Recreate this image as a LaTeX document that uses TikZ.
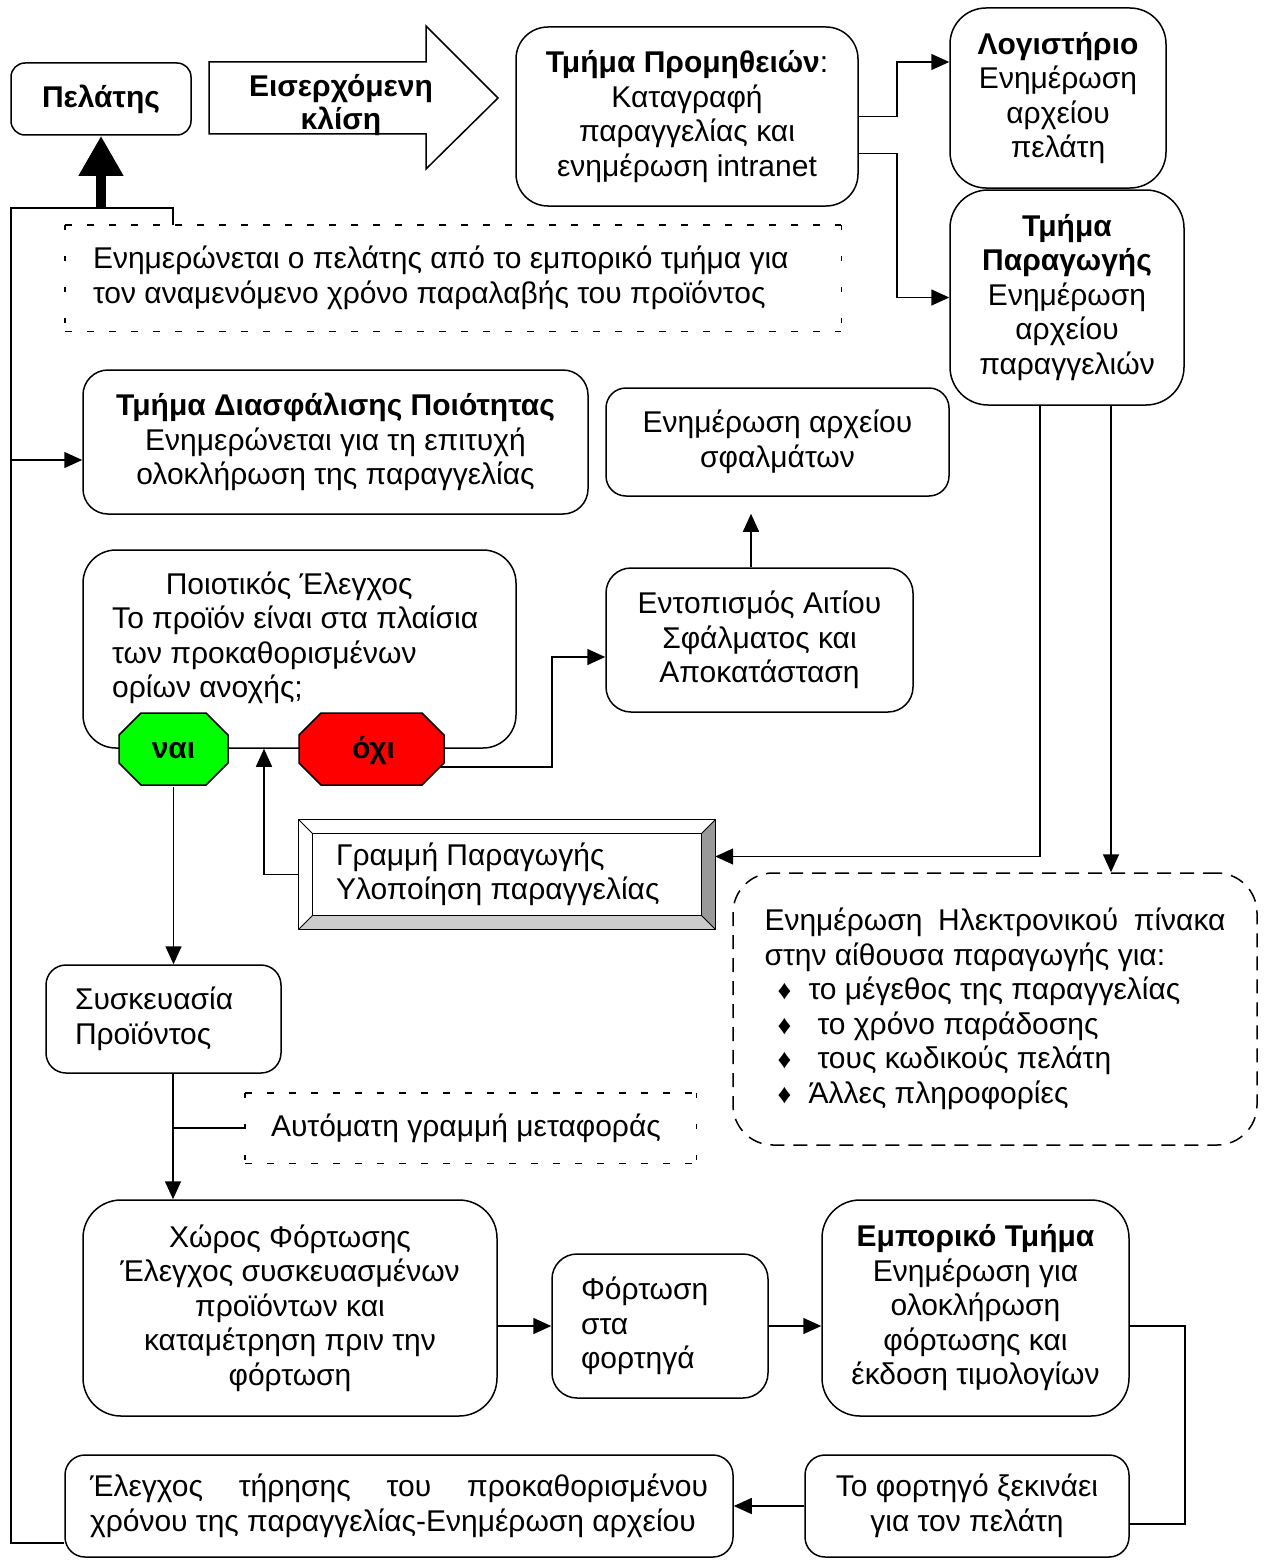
\documentclass[tikz,border=0pt]{standalone}
\usepackage{fontspec}
\setmainfont{Liberation Sans}
\usetikzlibrary{arrows.meta}

\newcommand\bul[1]{\makebox[#1][l]{\hspace{13pt}{\fontsize{27}{27}\selectfont ♦}}}

\begin{document}
\begin{tikzpicture}[x=1pt,y=-1pt,
  every node/.style={font=\fontsize{30}{34.5}\selectfont, inner sep=0pt,
    execute at begin node={\spaceskip=0pt\xspaceskip=0pt}},
  box/.style={draw, line width=1.5pt, rounded corners=#1, align=center},
  box/.default=20pt,
  link/.style={line width=1.5pt},
  arr/.style={line width=1.5pt, -{Triangle[length=18pt,width=16pt]}},
  hdots/.style={line width=1.4pt, dash pattern=on 7pt off 15pt},
  vdots/.style={line width=1.4pt, dash pattern=on 5pt off 26pt},
  bigdash/.style={draw, line width=1.5pt, dash pattern=on 14pt off 9pt, rounded corners=40pt},
  boldtext/.style={font=\fontsize{30}{34.5}\selectfont\bfseries},
]
\useasboundingbox (0,0) rectangle (1272,1560);

% ---------- top row ----------
\node[box=14pt, boldtext, minimum width=180pt, minimum height=72pt] (pel) at (101,99) {Πελάτης};

\draw[line width=1.5pt] (209,62) -- (426,62) -- (426,26) -- (498,98) -- (426,169) -- (426,134) -- (209,134) -- cycle;
\node[align=center, font=\fontsize{30}{33}\selectfont\bfseries] (call) at (341,105) {Εισερχόμενη\\κλίση};

\node[box=32pt, minimum width=342pt, minimum height=179pt] (prom) at (687,116.5)
  {\textbf{Τμήμα Προμηθειών}:\\Καταγραφή\\παραγγελίας και\\ενημέρωση intranet};
\node[box=36pt, minimum width=216pt, minimum height=180pt] (log) at (1058,98)
  {\textbf{Λογιστήριο}\\Ενημέρωση\\αρχείου\\πελάτη};
\node[box=38pt, minimum width=234pt, minimum height=215pt] (prod) at (1067,297.5)
  {\textbf{Τμήμα}\\\textbf{Παραγωγής}\\Ενημέρωση\\αρχείου\\παραγγελιών};

\draw[arr] (prom.east) -- ++(38,0) |- ([yshift=36pt]log.west);
\draw[arr] ([yshift=-37pt]prom.east) -- ++(38,0) |- (prod.west);

% ---------- note on the customer ----------
\node[minimum width=776pt, minimum height=106pt, text width=720pt, inner xsep=28pt, align=left] (note1) at (453,278)
  {Ενημερώνεται ο πελάτης από το εμπορικό τμήμα για\\τον αναμενόμενο χρόνο παραλαβής του προϊόντος};
\draw[hdots] (note1.north west) -- (note1.north east);
\draw[hdots] (note1.south west) -- (note1.south east);
\draw[vdots] (note1.north west) -- (note1.south west);
\draw[vdots] (note1.north east) -- (note1.south east);

% ---------- middle part ----------
\node[box=25pt, minimum width=505pt, minimum height=144pt] (qa) at (335.5,442)
  {\textbf{Τμήμα Διασφάλισης Ποιότητας}\\Ενημερώνεται για τη επιτυχή\\ολοκλήρωση της παραγγελίας};
\node[box=20pt, minimum width=343pt, minimum height=108pt] (sfal) at (777.5,442)
  {Ενημέρωση αρχείου\\σφαλμάτων};
\node[box=25pt, minimum width=307pt, minimum height=144pt] (ent) at (759.5,640)
  {Εντοπισμός Αιτίου\\Σφάλματος και\\Αποκατάσταση};
\draw[arr, shorten >=17pt] ([xshift=-8.5pt]ent.north) -- ([xshift=-8.5pt]ent.north |- sfal.south);

\node[box=33pt, minimum width=433pt, minimum height=198pt] (qc) at (299.5,649) {};
\node[align=left] (qctxt) at (112,638) [anchor=west]
  {\makebox[354pt]{Ποιοτικός Έλεγχος}\\Το προϊόν είναι στα πλαίσια\\των προκαθορισμένων\\ορίων ανοχής;};

% production line (bevelled box)
\node[minimum width=416pt, minimum height=109pt, text width=342pt, inner xsep=37pt, align=left] (gram) at (507,874.5)
  {Γραμμή Παραγωγής\\Υλοποίηση παραγγελίας};
\fill[gray!80] (gram.north east) -- (gram.south east) -- ([xshift=-14pt,yshift=14pt]gram.south east) -- ([xshift=-14pt,yshift=-14pt]gram.north east) -- cycle;
\fill[gray!40] (gram.south west) -- (gram.south east) -- ([xshift=-14pt,yshift=14pt]gram.south east) -- ([xshift=14pt,yshift=14pt]gram.south west) -- cycle;
\draw[line width=1.3pt] (gram.north west) rectangle (gram.south east);
\draw[line width=1.3pt] ([xshift=14pt,yshift=-14pt]gram.north west) rectangle ([xshift=-14pt,yshift=14pt]gram.south east);
\draw[line width=1pt] (gram.north west) -- ([xshift=14pt,yshift=-14pt]gram.north west)
  (gram.north east) -- ([xshift=-14pt,yshift=-14pt]gram.north east)
  (gram.south east) -- ([xshift=-14pt,yshift=14pt]gram.south east)
  (gram.south west) -- ([xshift=14pt,yshift=14pt]gram.south west);

% electronic board
\node[bigdash, minimum width=524pt, minimum height=272pt, text width=461pt, inner xsep=31.5pt, align=left] (board) at (995,1009)
  {\makebox[461pt][s]{Ενημέρωση\hfill Ηλεκτρονικού\hfill πίνακα}\\
   στην αίθουσα παραγωγής για:\\
   \bul{44pt}το μέγεθος της παραγγελίας\\
   \bul{53pt}το χρόνο παράδοσης\\
   \bul{53pt}τους κωδικούς πελάτη\\
   \bul{44pt}Άλλες πληροφορίες};

\draw[arr] ([xshift=-27pt]prod.south) |- ([yshift=18pt]gram.east);
\draw[arr] ([xshift=44pt]prod.south) -- ([xshift=116pt]board.north);

% decision exits
\draw[arr] ([yshift=-18pt]371.5,749) -- (552,767) |- ([yshift=-17pt]ent.west);
\draw[arr] (gram.west) -| ([xshift=-35.5pt]qc.south);

\filldraw[fill=green, line width=1.5pt] (141,713) -- (206,713) -- (228,735) -- (228,763) -- (206,785) -- (141,785) -- (119,763) -- (119,735) -- cycle;
\filldraw[fill=red, line width=1.5pt] (321,713) -- (422,713) -- (444,735) -- (444,763) -- (422,785) -- (321,785) -- (299,763) -- (299,735) -- cycle;
\node[boldtext, minimum width=109pt, minimum height=72pt] (yes) at (173.5,751) {ναι};
\node[boldtext, minimum width=145pt, minimum height=72pt] (no) at (373.5,751) {όχι};

% ---------- packing and loading ----------
\node[box=20pt, minimum width=235pt, minimum height=108pt, text width=177pt, inner xsep=29pt, align=left] (pack) at (163.5,1019)
  {Συσκευασία\\Προϊόντος};
\draw[arr] (yes.south) -- (yes.south |- pack.north);

\node[minimum width=451pt, minimum height=70pt, text width=399pt, inner xsep=26pt, align=left] (conv) at (470.5,1128)
  {Αυτόματη γραμμή μεταφοράς};
\draw[hdots] (conv.north west) -- (conv.north east);
\draw[hdots] (conv.south west) -- (conv.south east);
\draw[vdots] (conv.north west) -- (conv.south west);
\draw[vdots] (conv.north east) -- (conv.south east);

\node[box=38pt, minimum width=414pt, minimum height=216pt] (load) at (290,1308)
  {Χώρος Φόρτωσης\\Έλεγχος συσκευασμένων\\προϊόντων και\\καταμέτρηση πριν την\\φόρτωση};
\draw[arr] ([xshift=9.5pt]pack.south) -- ([xshift=9.5pt]pack.south |- load.north);
\draw[link] (conv.west) -- ++(-72,0);

\node[box=25pt, minimum width=216pt, minimum height=144pt, text width=158pt, inner xsep=29pt, align=left] (truck) at (660,1326)
  {Φόρτωση\\στα\\φορτηγά};
\node[box=38pt, minimum width=307pt, minimum height=216pt] (sales) at (975.5,1308)
  {\textbf{Εμπορικό Τμήμα}\\Ενημέρωση για\\ολοκλήρωση\\φόρτωσης και\\έκδοση τιμολογίων};
\draw[arr] (load.east |- truck.west) -- (truck.west);
\draw[arr] (truck.east) -- (truck.east -| sales.west);

\node[box=20pt, minimum width=324pt, minimum height=102pt] (depart) at (967,1506)
  {Το φορτηγό ξεκινάει\\για τον πελάτη};
\node[box=20pt, minimum width=668pt, minimum height=102pt, text width=618pt, inner xsep=25pt, align=left] (deadline) at (399,1506)
  {\makebox[618pt][s]{Έλεγχος\hfill τήρησης\hfill του\hfill προκαθορισμένου}\\χρόνου της παραγγελίας-Ενημέρωση αρχείου};

\draw[link] ([yshift=-18pt]sales.east) -- ++(55,0) |- ([yshift=-18pt]depart.east);
\draw[arr] (depart.west) -- (deadline.east);

% ---------- feedback to the customer ----------
\coordinate (fbtop) at (11,208);
\draw[link] ([yshift=-37pt]deadline.west) -| (fbtop) -| ([xshift=-280pt]note1.north);
\draw[arr] (fbtop |- 0,460) -- ([yshift=-18pt]qa.west);
\draw[line width=10pt, -{Triangle[length=40pt,width=42pt]}] (pel.south |- fbtop) -- (pel.south);
\end{tikzpicture}
\end{document}
